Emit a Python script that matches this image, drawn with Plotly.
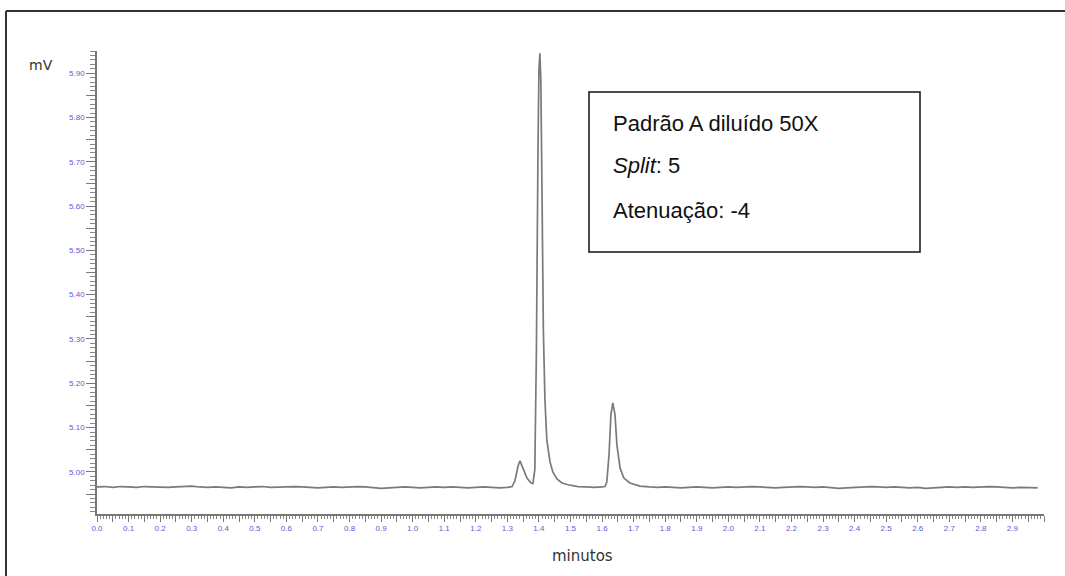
import plotly.graph_objects as go

# ---- data (time in minutes, signal in mV) ----
base_start_t = [0.000, 0.025, 0.050, 0.075, 0.100, 0.125, 0.150, 0.175, 0.200, 0.225,
                0.250, 0.275, 0.300, 0.325, 0.350, 0.375, 0.400, 0.425, 0.450, 0.475,
                0.500, 0.525, 0.550, 0.575, 0.600, 0.625, 0.650, 0.675, 0.700, 0.725,
                0.750, 0.775, 0.800, 0.825, 0.850, 0.875, 0.900, 0.925, 0.950, 0.975,
                1.000, 1.025, 1.050, 1.075, 1.100, 1.125, 1.150, 1.175, 1.200, 1.225,
                1.250, 1.275, 1.300]
base_start_mv = [4.966, 4.967, 4.965, 4.967, 4.966, 4.965, 4.967, 4.966, 4.966, 4.965,
                 4.966, 4.967, 4.968, 4.966, 4.965, 4.966, 4.965, 4.964, 4.966, 4.965,
                 4.966, 4.967, 4.965, 4.966, 4.966, 4.967, 4.966, 4.965, 4.964, 4.965,
                 4.966, 4.965, 4.966, 4.967, 4.966, 4.965, 4.963, 4.964, 4.965, 4.966,
                 4.965, 4.964, 4.965, 4.966, 4.965, 4.966, 4.965, 4.964, 4.965, 4.966,
                 4.965, 4.964, 4.965]

peaks_a_t = [1.315, 1.324, 1.334, 1.340, 1.349, 1.362, 1.375, 1.381, 1.387, 1.392,
             1.397, 1.400, 1.403, 1.406, 1.410, 1.414, 1.419, 1.425, 1.435, 1.444,
             1.457, 1.473, 1.492, 1.524]
peaks_a_mv = [4.967, 4.980, 5.014, 5.025, 5.009, 4.986, 4.975, 4.974, 5.005, 5.275,
              5.727, 5.907, 5.945, 5.885, 5.614, 5.320, 5.163, 5.072, 5.023, 5.000,
              4.984, 4.975, 4.971, 4.967]

mid_t = [1.550, 1.575, 1.600, 1.609]
mid_mv = [4.966, 4.965, 4.966, 4.967]

peak_b_t = [1.615, 1.622, 1.628, 1.634, 1.641, 1.647, 1.657, 1.669, 1.688, 1.720]
peak_b_mv = [4.977, 5.038, 5.129, 5.156, 5.129, 5.061, 5.009, 4.986, 4.975, 4.968]

base_end_t = [1.750, 1.775, 1.800, 1.825, 1.850, 1.875, 1.900, 1.925, 1.950, 1.975,
              2.000, 2.025, 2.050, 2.075, 2.100, 2.125, 2.150, 2.175, 2.200, 2.225,
              2.250, 2.275, 2.300, 2.325, 2.350, 2.375, 2.400, 2.425, 2.450, 2.475,
              2.500, 2.525, 2.550, 2.575, 2.600, 2.625, 2.650, 2.675, 2.700, 2.725,
              2.750, 2.775, 2.800, 2.825, 2.850, 2.875, 2.900, 2.925, 2.950, 2.980]
base_end_mv = [4.966, 4.965, 4.966, 4.965, 4.964, 4.965, 4.966, 4.965, 4.964, 4.965,
               4.966, 4.965, 4.966, 4.967, 4.966, 4.965, 4.964, 4.965, 4.966, 4.967,
               4.966, 4.965, 4.966, 4.965, 4.963, 4.964, 4.965, 4.966, 4.967, 4.966,
               4.965, 4.966, 4.965, 4.964, 4.965, 4.963, 4.964, 4.965, 4.966, 4.965,
               4.966, 4.965, 4.966, 4.967, 4.966, 4.965, 4.964, 4.965, 4.964, 4.964]

time_min = base_start_t + peaks_a_t + mid_t + peak_b_t + base_end_t
signal_mv = base_start_mv + peaks_a_mv + mid_mv + peak_b_mv + base_end_mv

x_tickvals = [round(i * 0.05, 2) for i in range(61)]
x_ticktext = [f"{v:.1f}" if i % 2 == 0 and v < 2.95 else "" for i, v in enumerate(x_tickvals)]
y_tickvals = [round(4.90 + i * 0.05, 2) for i in range(21)]
y_ticktext = [f"{v:.2f}" if i % 2 == 0 and v >= 5.0 else "" for i, v in enumerate(y_tickvals)]

info_lines = ["Padrão A diluído 50X", "<i>Split</i>: 5", "Atenuação: -4"]

# ---- figure ----
W, H = 1065, 576
L, R, T, B = 97, 21, 51, 62
pw, ph = W - L - R, H - T - B

def px(xp):
    return (xp - L) / pw

def py(yp):
    return (H - B - yp) / ph

tick_font = dict(family="Liberation Sans, Arial", size=8, color="#6157d4")

fig = go.Figure()
fig.add_trace(go.Scatter(x=time_min, y=signal_mv, mode="lines",
                         line=dict(color="#7a7a7a", width=1.7), hoverinfo="skip",
                         showlegend=False))

fig.update_layout(
    width=W, height=H,
    margin=dict(l=L, r=R, t=T, b=B),
    paper_bgcolor="white", plot_bgcolor="white",
    showlegend=False,
    xaxis=dict(range=[0, 3.0], showgrid=False, zeroline=False,
               showline=True, linecolor="#777777", linewidth=1.5,
               tickmode="array", tickvals=x_tickvals, ticktext=x_ticktext,
               ticks="outside", ticklen=6, tickcolor="#777777", tickwidth=1,
               tickfont=tick_font, tickangle=0,
               minor=dict(dtick=0.01, tick0=0, ticks="outside", ticklen=3,
                          tickcolor="#888888", tickwidth=1, showgrid=False)),
    yaxis=dict(range=[4.905, 5.950], showgrid=False, zeroline=False,
               showline=True, linecolor="#777777", linewidth=1.5,
               tickmode="array", tickvals=y_tickvals, ticktext=y_ticktext,
               ticks="outside", ticklen=9, tickcolor="#777777", tickwidth=1,
               tickfont=tick_font,
               minor=dict(dtick=0.01, tick0=4.90, ticks="outside", ticklen=5,
                          tickcolor="#888888", tickwidth=1, showgrid=False)),
)

# outer frame (left & top edges)
fig.add_shape(type="line", xref="paper", yref="paper",
              x0=px(6), y0=py(600), x1=px(6), y1=py(11),
              line=dict(color="#333333", width=2))
fig.add_shape(type="line", xref="paper", yref="paper",
              x0=px(6), y0=py(11), x1=px(1080), y1=py(11),
              line=dict(color="#333333", width=2))

# info box
fig.add_shape(type="rect", xref="paper", yref="paper",
              x0=px(589), y0=py(252), x1=px(920), y1=py(92),
              line=dict(color="#111111", width=1.5), fillcolor="white")
for line_text, ypix in zip(info_lines, [123, 165, 210]):
    fig.add_annotation(xref="paper", yref="paper", x=px(611), y=py(ypix),
                       text=line_text, showarrow=False, xanchor="left", yanchor="middle",
                       font=dict(family="Liberation Sans, Arial", size=22, color="#111111"))

# axis titles
fig.add_annotation(xref="paper", yref="paper", x=px(41), y=py(65),
                   text="mV", showarrow=False, xanchor="center", yanchor="middle",
                   font=dict(family="DejaVu Sans", size=14, color="#333333"))
fig.add_annotation(xref="paper", yref="paper", x=px(582), y=py(556),
                   text="minutos", showarrow=False, xanchor="center", yanchor="middle",
                   font=dict(family="DejaVu Sans", size=15, color="#333333"))

fig.write_html("out.html")
